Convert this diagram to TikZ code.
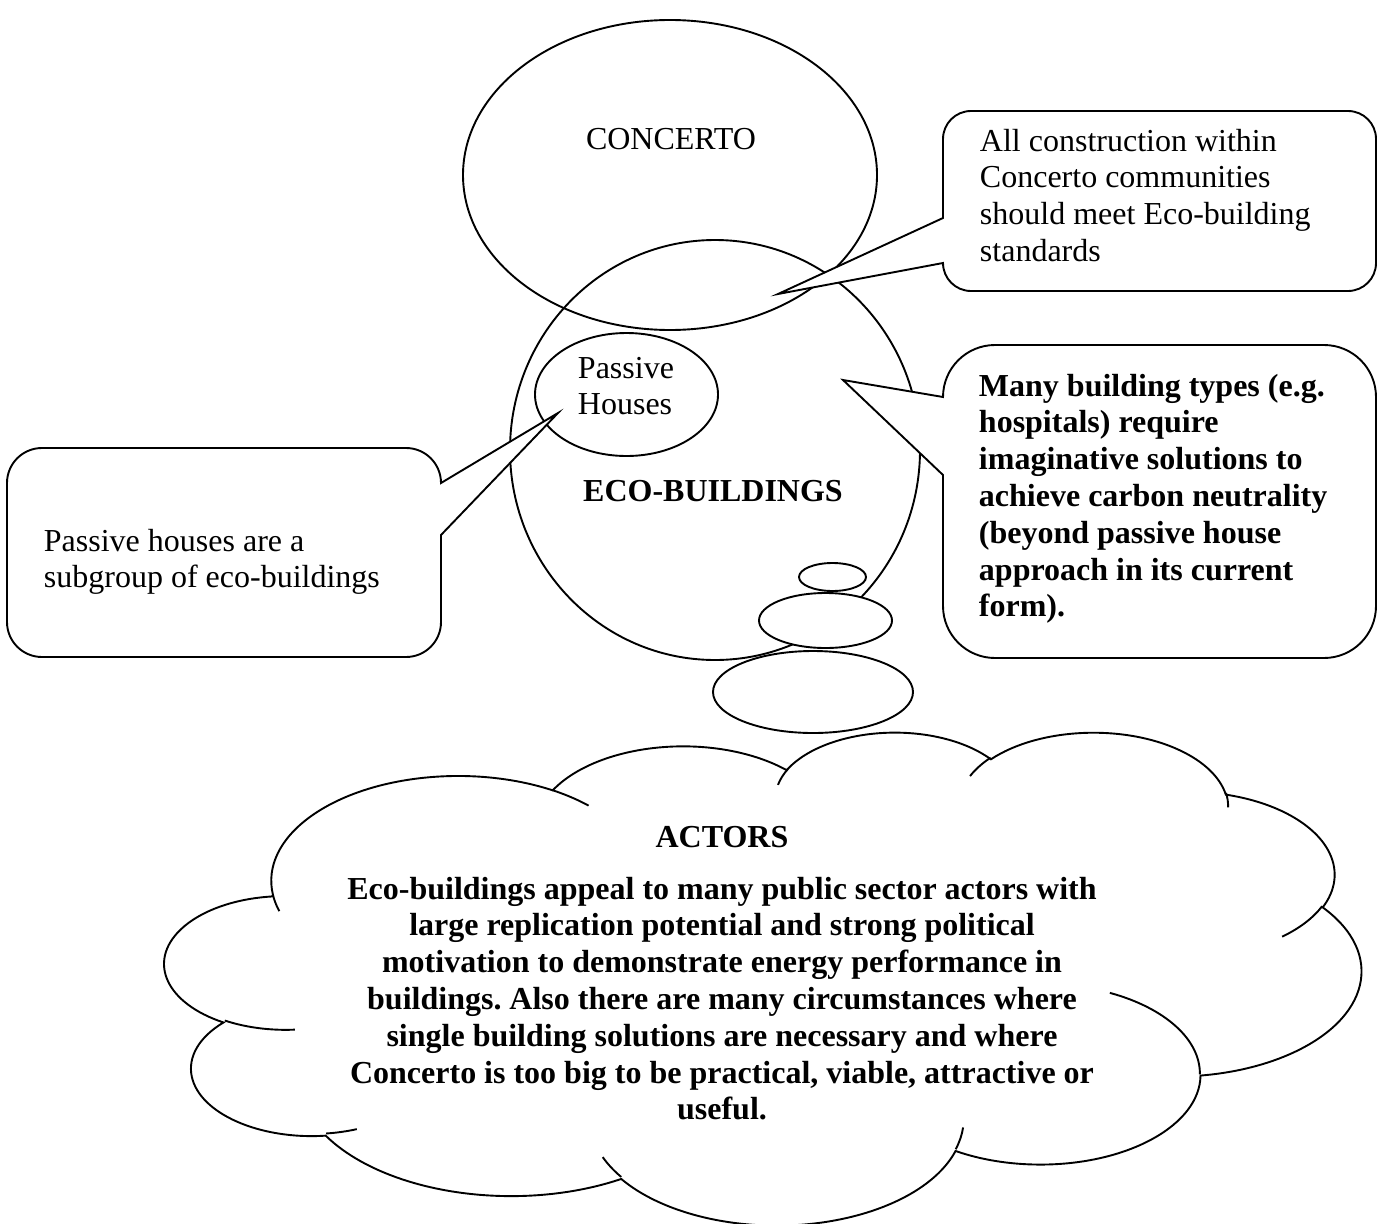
\documentclass[tikz,border=0pt]{standalone}
\usepackage{fontspec}
\setmainfont{Liberation Serif}
\usepackage{tikz}
\usetikzlibrary{positioning}
\frenchspacing

\begin{document}
\begin{tikzpicture}[x=1pt, y=-1pt, line width=1.9pt,
  bubble/.style={draw, fill=white},
  txt/.style={inner sep=0pt, font=\fontsize{32}{36.8}\selectfont},
  btxt/.style={txt, font=\fontsize{32}{36.8}\selectfont\bfseries}]
\useasboundingbox (0,0) rectangle (1386,1223);
% the three sets
\draw (670,175) ellipse [x radius=207, y radius=155];
\draw (715,450) ellipse [x radius=205, y radius=210];
\draw (626.5,394.5) ellipse [x radius=91.5, y radius=61.5];
% thought bubbles
\filldraw[bubble] (832.5,577) ellipse [x radius=33.5, y radius=14];
\filldraw[bubble] (825.5,620.5) ellipse [x radius=66.5, y radius=27.5];
\filldraw[bubble] (813,692) ellipse [x radius=100, y radius=41];
% callouts
\filldraw[bubble] (943,218) -- (778,294) -- (943,263)
  arc[start angle=180, end angle=90, radius=28] -- (1348,291)
  arc[start angle=90, end angle=0, radius=28] -- (1376,139)
  arc[start angle=0, end angle=-90, radius=28] -- (971,111)
  arc[start angle=-90, end angle=-180, radius=28] -- cycle;
\filldraw[bubble] (943,397) -- (843,380) -- (943,475) -- (943,606)
  arc[start angle=180, end angle=90, radius=52] -- (1324,658)
  arc[start angle=90, end angle=0, radius=52] -- (1376,397)
  arc[start angle=0, end angle=-90, radius=52] -- (995,345)
  arc[start angle=-90, end angle=-180, radius=52] -- cycle;
\filldraw[bubble] (441,483) -- (558,413) -- (441,535) -- (441,622)
  arc[start angle=0, end angle=90, radius=35] -- (42,657)
  arc[start angle=90, end angle=180, radius=35] -- (7,483)
  arc[start angle=180, end angle=270, radius=35] -- (406,448)
  arc[start angle=270, end angle=360, radius=35] -- cycle;
% cloud
\begin{scope}[shift={(165,731)}, x=2.7685pt, y=-1.1408pt]
\filldraw[bubble] (39.00,143.70)
  \foreach \w/\h/\s/\d [evaluate=\s as \ta using {atan2(\w*sin(\s),\h*cos(\s))},
      evaluate=\d as \da using {mod(atan2(\w*sin(\s+\d),\h*cos(\s+\d))-atan2(\w*sin(\s),\h*cos(\s))+720,360)}]
  in {67.53/91.90/-190.487/123.781, 53.33/72.67/-144.102/89.945,
      43.65/59.45/-145.808/99.723, 48.57/65.95/-130.986/117.242,
      53.33/72.73/-78.709/109.027, 67.75/92.20/-46.267/130.269,
      57.85/78.67/0.625/114.033, 67.52/92.15/22.452/115.173,
      77.20/105.43/66.243/75.711, 43.60/59.18/-274.942/146.736,
      43.45/59.45/-246.829/152.519}
  { arc[x radius=\w, y radius=\h, start angle=\ta, delta angle=\da] } -- cycle;
\draw
  \foreach \px/\py/\w/\h/\s/\d [evaluate=\s as \ta using {atan2(\w*sin(\s),\h*cos(\s))},
      evaluate=\d as \da using {mod(atan2(\w*sin(\s+\d),\h*cos(\s+\d))-atan2(\w*sin(\s),\h*cos(\s))+720,360)}]
  in {46.93/261.77/43.45/59.45/86.742/26.430,
      69.28/348.99/43.60/59.18/73.610/11.447,
      164.78/390.90/67.52/92.15/137.624/14.081,
      288.27/347.51/67.52/92.15/6.453/15.998,
      341.29/229.54/57.85/78.67/-70.292/70.917,
      417.98/153.54/53.33/72.73/30.318/27.752,
      383.24/54.26/48.57/65.95/-13.744/14.859,
      290.78/39.52/48.57/65.95/-149.181/18.195,
      221.41/47.20/43.65/59.45/-163.494/17.686,
      140.00/51.92/67.53/91.90/-66.707/12.319,
      41.27/157.89/67.53/91.90/157.654/11.858}
  { (\px,\py) arc[x radius=\w, y radius=\h, start angle=\ta, delta angle=\da] };
\end{scope}
% labels
\node[txt, anchor=base] (concerto) at (671,149) {CONCERTO};
\node[btxt, anchor=base] (eco) at (713,501) {ECO-BUILDINGS};
\node[txt, anchor=north west, align=left] (passive) at (577,356) {Passive\\Houses};
\node[txt, anchor=north west, align=left] (rule) at (979,128)
  {All construction within\\Concerto communities\\should meet Eco-building\\standards};
\node[btxt, anchor=north west, align=left] (types) at (978,373)
  {Many building types (e.g.\\hospitals) require\\imaginative solutions to\\achieve carbon neutrality\\(beyond passive house\\approach in its current\\form).};
\node[txt, anchor=north west, align=left] (subgroup) at (43,528)
  {Passive houses are a\\subgroup of eco-buildings};
\node[btxt, anchor=base] (actors) at (722,847) {ACTORS};
\node[btxt, anchor=north, align=center] (appeal) at (722,876)
  {Eco-buildings appeal to many public sector actors with\\large replication potential and strong political\\motivation to demonstrate energy performance in\\buildings. Also there are many circumstances where\\single building solutions are necessary and where\\Concerto is too big to be practical, viable, attractive or\\useful.};
\end{tikzpicture}
\end{document}
